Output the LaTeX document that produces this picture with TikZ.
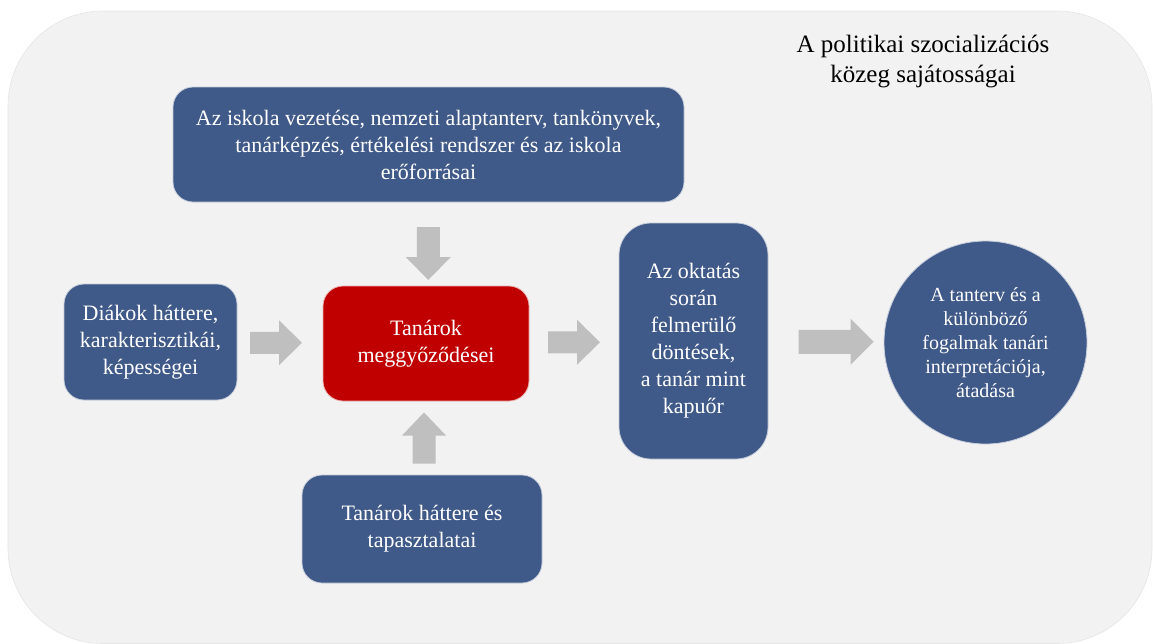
\documentclass[tikz,border=0pt]{standalone}
\usepackage{fontspec}
\setmainfont{Liberation Serif}
\usetikzlibrary{calc}
\definecolor{boxblue}{RGB}{63,89,136}
\definecolor{boxred}{RGB}{192,0,0}
\definecolor{arrowgray}{RGB}{191,191,191}
\definecolor{bggray}{RGB}{242,242,242}
\tikzset{
  pics/barrow/.style args={#1/#2/#3}{code={
    \fill[arrowgray] (-#1,-#2) -- (#1-23,-#2) -- (#1-23,-#3) -- (#1,0) -- (#1-23,#3) -- (#1-23,#2) -- (-#1,#2) -- cycle;}},
  box/.style={rectangle, rounded corners=20pt, fill=boxblue, draw=white!70!boxblue, line width=0.8pt,
    text=white, align=center, inner sep=0pt, font=\fontsize{22}{27}\selectfont},
}
\begin{document}
\begin{tikzpicture}[x=1pt,y=-1pt]
\useasboundingbox (0,0) rectangle (1153,643);
\path[fill=bggray, draw=black!10, line width=0.6pt, rounded corners=95pt] (8,11) rectangle (1152,643.5);

\node[font=\fontsize{25}{30}\selectfont, align=center] (cim) at (923,62) {A politikai szocializációs\\ közeg sajátosságai};

\node[box, minimum width=511pt, minimum height=115pt] (top) at (428.5,144.5)
  {Az iskola vezetése, nemzeti alaptanterv, tankönyvek,\\ tanárképzés, értékelési rendszer és az iskola\\ erőforrásai};
\node[box, minimum width=173pt, minimum height=116pt] (diak) at (150.5,342)
  {Diákok háttere,\\ karakterisztikái,\\ képességei};
\node[box, fill=boxred, draw=white!70!boxred, minimum width=206pt, minimum height=115pt] (hit) at (426,343.5)
  {Tanárok\\ meggyőződései};
\node[box, minimum width=240pt, minimum height=108pt] (tanar) at (422,529)
  {Tanárok háttere és\\ tapasztalatai};
\node[box, rounded corners=32pt, minimum width=149pt, minimum height=236pt] (dontes) at (693.5,341)
  {Az oktatás\\ során\\ felmerülő\\ döntések,\\ a tanár mint\\ kapuőr};
\node[box, circle, minimum size=203pt, font=\fontsize{20}{24}\selectfont] (kor) at (985.5,342.5)
  {A tanterv és a\\ különböző\\ fogalmak tanári\\ interpretációja,\\ átadása};

\pic at ($(diak.east)!0.5!(hit.west)+(-4,0)$) {barrow=26/11/22.5};
\pic at ($(hit.east)!0.5!(dontes.west)$) {barrow=26/11/22.5};
\pic at ($(dontes.east)!0.5!(kor.west)+(10,0)$) {barrow=37.5/12/23};
\pic[rotate=-90] at ($(top.south)!0.5!(hit.north)+(1,9.5)$) {barrow=26.5/11.5/22.5};
\pic[rotate=90] at ($(hit.south)!0.5!(tanar.north)$) {barrow=25.5/11.5/22};
\end{tikzpicture}
\end{document}
